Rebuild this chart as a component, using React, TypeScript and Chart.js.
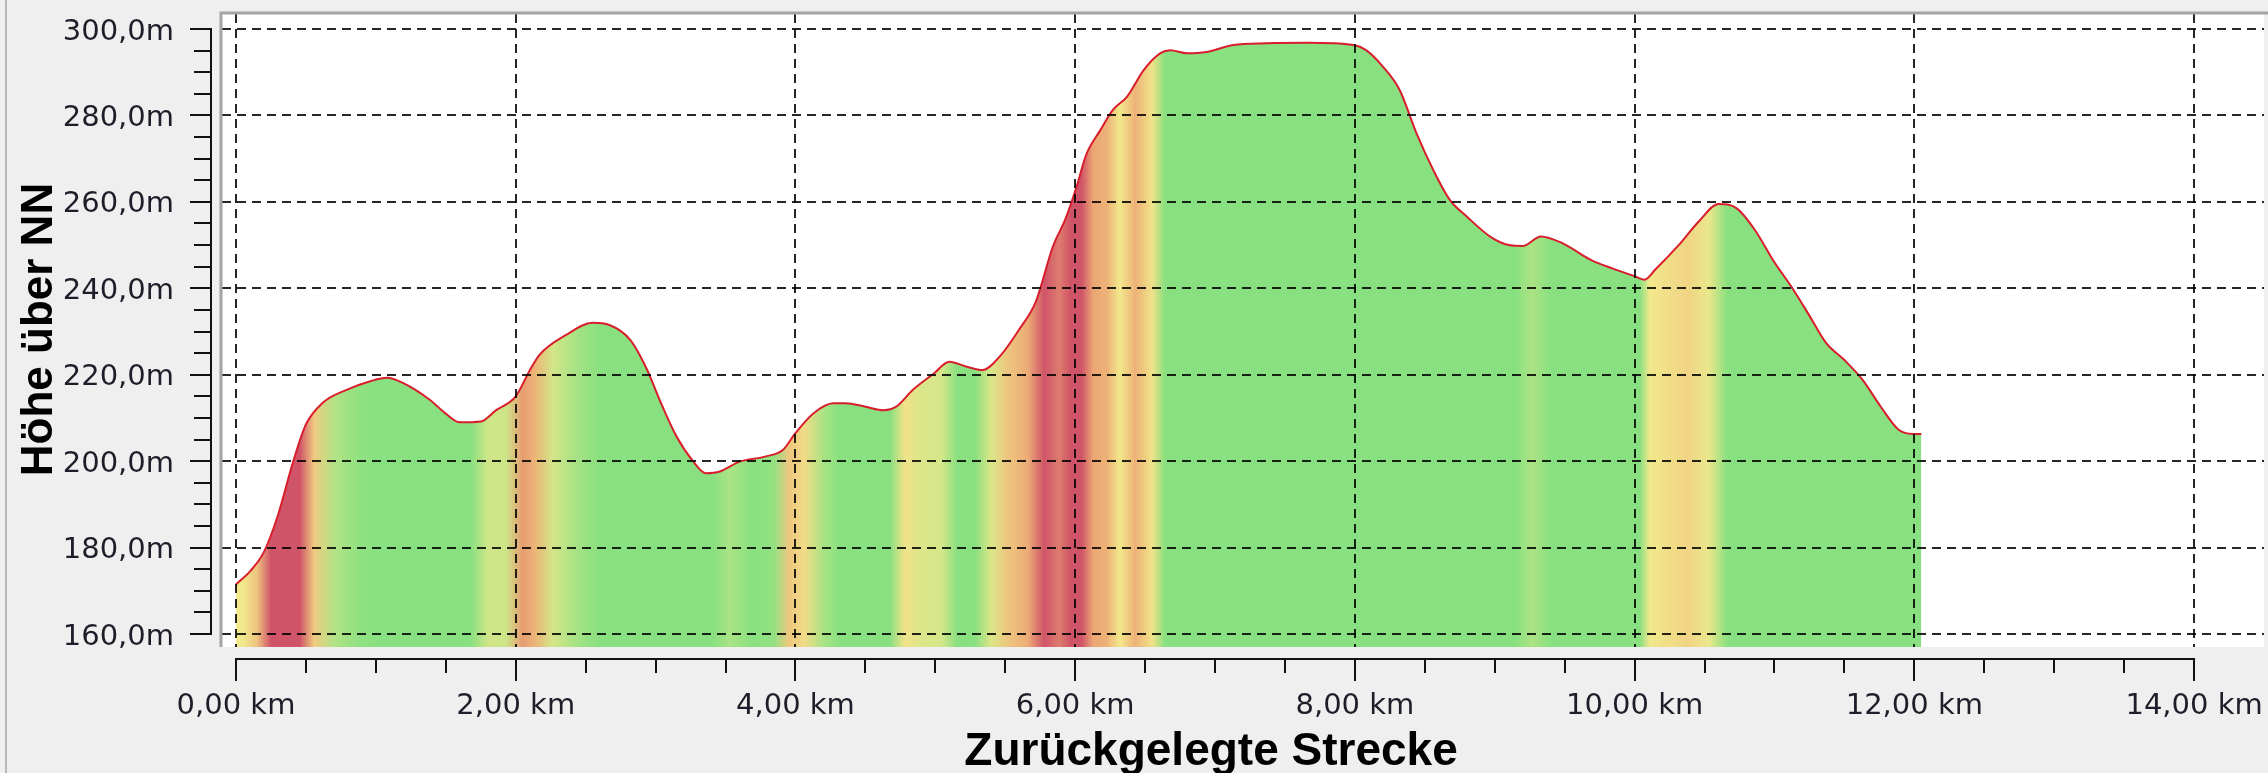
import React, { useEffect, useRef } from 'react';
import { Chart, registerables } from 'chart.js';

Chart.register(...registerables);

// ---- data ----
const distanceKm = [
  0.0, 0.1, 0.2, 0.3, 0.41, 0.5, 0.62, 0.79, 0.96, 1.08, 1.2, 1.39, 1.5, 1.6, 1.75, 1.86,
  2.0, 2.1, 2.17, 2.36, 2.55, 2.67, 2.82, 2.94, 3.03, 3.15, 3.27, 3.36, 3.46, 3.6, 3.79, 3.91,
  4.0, 4.13, 4.27, 4.36, 4.5, 4.63, 4.72, 4.84, 4.99, 5.1, 5.22, 5.34, 5.46, 5.6, 5.72, 5.84,
  5.93, 6.01, 6.08, 6.18, 6.27, 6.37, 6.49, 6.61, 6.68, 6.8, 6.94, 7.13, 7.37, 7.66, 7.99, 8.08,
  8.2, 8.32, 8.44, 8.56, 8.68, 8.8, 8.97, 9.1, 9.2, 9.33, 9.48, 9.69, 9.85, 10.0, 10.07, 10.15,
  10.31, 10.46, 10.6, 10.73, 10.86, 10.99, 11.12, 11.24, 11.37, 11.5, 11.63, 11.76, 11.89, 11.99, 12.05,
];
const elevationM = [
  171.5, 174.5, 179.0, 187.5, 200.0, 208.5, 213.5, 216.5, 218.5, 219.3, 218.0, 214.1, 211.0, 209.0, 209.2, 211.8,
  215.0, 221.0, 224.6, 229.2, 232.0, 231.5, 228.0, 221.1, 214.1, 205.7, 199.9, 197.2, 197.6, 199.9, 201.1, 202.6,
  206.5, 211.1, 213.4, 213.4, 212.6, 211.8, 212.6, 216.5, 220.3, 223.0, 221.9, 221.1, 224.2, 230.5, 237.0, 249.6,
  256.0, 263.5, 271.0, 276.6, 281.3, 284.3, 290.5, 294.4, 295.1, 294.4, 294.7, 296.3, 296.7, 296.8, 296.3, 295.1,
  291.3, 285.9, 275.9, 267.4, 260.4, 256.6, 251.9, 250.0, 249.8, 252.0, 250.5, 246.5, 244.5, 242.8, 242.0, 244.4,
  249.8, 255.5, 259.5, 258.5, 253.5, 246.5, 240.4, 234.2, 227.3, 223.4, 218.8, 212.6, 207.2, 206.3, 206.3,
];
const xTickValues = [0, 2, 4, 6, 8, 10, 12, 14];
const yTickValues = [160, 180, 200, 220, 240, 260, 280, 300];
const xMinorStep = 0.5;
const yMinorStep = 5;
const xTitle = 'Zurückgelegte Strecke';
const yTitle = 'Höhe über NN';

// slope (%) -> colour stops
const slopeStops: [number, number[]][] = [
  [1.0, [136, 224, 128]],
  [3.0, [242, 232, 140]],
  [5.5, [236, 170, 116]],
  [8.5, [208, 84, 104]],
];

function slopeColor(p: number): string {
  if (p <= slopeStops[0][0]) return `rgb(${slopeStops[0][1].join(',')})`;
  for (let i = 0; i < slopeStops.length - 1; i++) {
    const [a, ca] = slopeStops[i];
    const [b, cb] = slopeStops[i + 1];
    if (p <= b) {
      const t = (p - a) / (b - a);
      const c = ca.map((v, k) => Math.round(v + (cb[k] - v) * t));
      return `rgb(${c.join(',')})`;
    }
  }
  return `rgb(${slopeStops[slopeStops.length - 1][1].join(',')})`;
}

const fmtKm = (v: number) => v.toFixed(2).replace('.', ',') + ' km';
const fmtM = (v: number) => v.toFixed(1).replace('.', ',') + 'm';

const TICK_FONT = { family: '"DejaVu Sans", sans-serif', size: 29 };
const TEXT_COLOR = '#1e1e2a';

const zeroPadding = (s: any) => {
  s.paddingTop = 0;
  s.paddingBottom = 0;
  s.paddingLeft = 0;
  s.paddingRight = 0;
};

const framePlugin = {
  id: 'frame',
  beforeDraw(chart: any) {
    const { ctx, chartArea: a, width, height } = chart;
    ctx.save();
    ctx.fillStyle = '#efefef';
    ctx.fillRect(0, 0, width, height);
    ctx.fillStyle = '#b8b8b8';
    ctx.fillRect(5, 0, 2, height);
    ctx.fillStyle = '#ffffff';
    ctx.fillRect(a.left, a.top, a.right - a.left, a.bottom - a.top);
    ctx.restore();
  },
  afterDraw(chart: any) {
    const { ctx, chartArea: a } = chart;
    const xs = chart.scales.x;
    const ys = chart.scales.y;
    ctx.save();
    // plot border
    ctx.strokeStyle = '#a4a4a4';
    ctx.lineWidth = 3;
    ctx.beginPath();
    ctx.moveTo(a.left - 1, a.bottom);
    ctx.lineTo(a.left - 1, a.top - 1);
    ctx.lineTo(a.right + 4, a.top - 1);
    ctx.stroke();

    ctx.strokeStyle = '#111111';
    ctx.lineWidth = 2;
    // y axis
    const yMin = yTickValues[0];
    const yMax = yTickValues[yTickValues.length - 1];
    const axX = a.left - 11;
    ctx.beginPath();
    ctx.moveTo(axX, ys.getPixelForValue(yMin) + 1);
    ctx.lineTo(axX, ys.getPixelForValue(yMax) - 1);
    for (let v = yMin; v <= yMax + 1e-9; v += yMinorStep) {
      const y = Math.round(ys.getPixelForValue(v));
      const major = yTickValues.includes(v);
      ctx.moveTo(axX - (major ? 21 : 17), y);
      ctx.lineTo(axX, y);
    }
    ctx.stroke();

    // x axis
    const xMin = xTickValues[0];
    const xMax = xTickValues[xTickValues.length - 1];
    const axY = a.bottom + 12;
    ctx.beginPath();
    ctx.moveTo(xs.getPixelForValue(xMin) - 1, axY);
    ctx.lineTo(xs.getPixelForValue(xMax) + 1, axY);
    for (let v = xMin; v <= xMax + 1e-9; v += xMinorStep) {
      const x = Math.round(xs.getPixelForValue(v));
      const major = xTickValues.some((t) => Math.abs(t - v) < 1e-9);
      ctx.moveTo(x, axY);
      ctx.lineTo(x, axY + (major ? 22 : 14));
    }
    ctx.stroke();

    // titles
    ctx.fillStyle = '#000000';
    ctx.textAlign = 'center';
    ctx.textBaseline = 'alphabetic';
    ctx.font = 'bold 46px "Liberation Sans", Arial, sans-serif';
    const cx = (xs.getPixelForValue(xMin) + xs.getPixelForValue(xMax)) / 2 - 4;
    ctx.fillText(xTitle, cx, 765);

    ctx.font = 'bold 44px "Liberation Sans", Arial, sans-serif';
    const cy = (ys.getPixelForValue(yMin) + ys.getPixelForValue(yMax)) / 2 - 2;
    ctx.translate(52, cy);
    ctx.rotate(-Math.PI / 2);
    ctx.fillText(yTitle, 0, 0);
    ctx.restore();
  },
};

export default function App() {
  const canvasRef = useRef<HTMLCanvasElement | null>(null);

  useEffect(() => {
    const canvas = canvasRef.current;
    if (!canvas) return;
    const points = distanceKm.map((d, i) => ({ x: d, y: elevationM[i] }));

    const chart = new Chart(canvas, {
      type: 'line',
      data: {
        datasets: [
          {
            data: points,
            borderColor: '#d81e2c',
            borderWidth: 2,
            pointRadius: 0,
            cubicInterpolationMode: 'monotone',
            fill: 'start',
            backgroundColor: (context: any) => {
              const ch = context.chart;
              const { chartArea, scales } = ch;
              if (!chartArea || !scales.x) return 'rgb(136,224,128)';
              const n = distanceKm.length;
              const x0 = scales.x.getPixelForValue(distanceKm[0]);
              const x1 = scales.x.getPixelForValue(distanceKm[n - 1]);
              const g = ch.ctx.createLinearGradient(x0, 0, x1, 0);
              for (let i = 0; i < n - 1; i++) {
                const dd = distanceKm[i + 1] - distanceKm[i];
                const slope = ((elevationM[i + 1] - elevationM[i]) / (dd * 1000)) * 100;
                const mid = (distanceKm[i] + distanceKm[i + 1]) / 2;
                const f = (scales.x.getPixelForValue(mid) - x0) / (x1 - x0);
                g.addColorStop(Math.min(1, Math.max(0, f)), slopeColor(slope));
              }
              return g;
            },
          } as any,
        ],
      },
      options: {
        animation: false,
        responsive: false,
        devicePixelRatio: 1,
        layout: { padding: { top: 14, right: 4, bottom: 0, left: 0 } },
        plugins: { legend: { display: false }, tooltip: { enabled: false } },
        scales: {
          x: {
            type: 'linear',
            min: -0.1,
            max: 14.5,
            afterFit: (s: any) => {
              s.height = 126;
              zeroPadding(s);
            },
            afterBuildTicks: (s: any) => {
              s.ticks = xTickValues.map((v) => ({ value: v }));
            },
            grid: { color: 'rgba(0,0,0,0.85)', lineWidth: 2, drawTicks: false, z: 1 },
            border: { display: false, dash: [9, 6] },
            ticks: {
              color: TEXT_COLOR,
              font: TICK_FONT,
              padding: 42,
              maxRotation: 0,
              autoSkip: false,
              callback: (v: any) => fmtKm(Number(v)),
            },
          },
          y: {
            type: 'linear',
            min: 157.0,
            max: 303.47,
            afterFit: (s: any) => {
              s.width = 222;
              zeroPadding(s);
            },
            afterBuildTicks: (s: any) => {
              s.ticks = yTickValues.map((v) => ({ value: v }));
            },
            grid: { color: 'rgba(0,0,0,0.85)', lineWidth: 2, drawTicks: false, z: 1 },
            border: { display: false, dash: [9, 6] },
            ticks: {
              color: TEXT_COLOR,
              font: TICK_FONT,
              padding: 48,
              labelOffset: 3,
              autoSkip: false,
              callback: (v: any) => fmtM(Number(v)),
            },
          },
        },
      } as any,
      plugins: [framePlugin],
    });
    return () => chart.destroy();
  }, []);

  return (
    <div style={{ position: 'absolute', left: 0, top: 0, width: 2268, height: 773, background: '#efefef' }}>
      <canvas ref={canvasRef} width={2268} height={773} style={{ display: 'block', width: 2268, height: 773 }} />
    </div>
  );
}
